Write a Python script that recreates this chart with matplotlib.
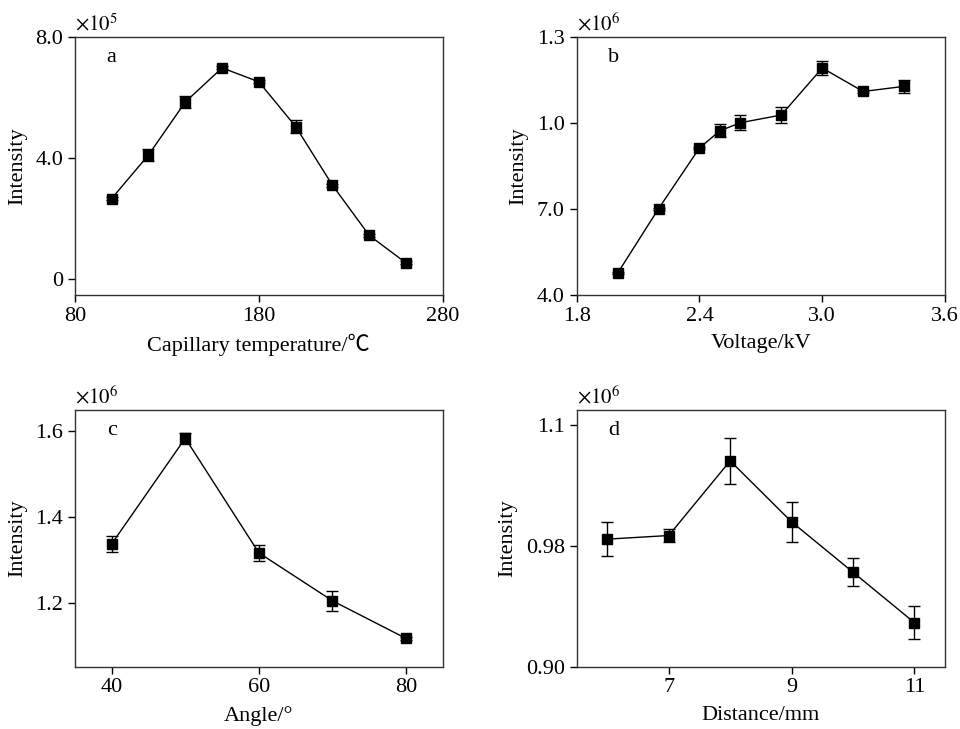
import matplotlib
matplotlib.use("Agg")
import matplotlib.pyplot as plt

plt.rcParams['font.family'] = ['Liberation Serif', 'Noto Sans CJK SC', 'DejaVu Sans']
plt.rcParams['mathtext.fontset'] = 'stix'

# a: capillary temperature (x10^5)
temp = [100, 120, 140, 160, 180, 200, 220, 240, 260]
temp_int = [2.66, 4.10, 5.85, 6.98, 6.52, 5.04, 3.10, 1.44, 0.53]
temp_err = [0.05, 0.21, 0.21, 0.05, 0.05, 0.22, 0.05, 0.05, 0.05]

# b: voltage (x10^6)
volt = [2.0, 2.2, 2.4, 2.5, 2.6, 2.8, 3.0, 3.2, 3.4]
volt_int = [0.476, 0.701, 0.913, 0.973, 1.001, 1.028, 1.192, 1.110, 1.128]
volt_err = [0.004, 0.004, 0.004, 0.023, 0.026, 0.027, 0.023, 0.004, 0.023]

# c: angle (x10^6)
angle = [40, 50, 60, 70, 80]
angle_int = [1.337, 1.584, 1.316, 1.204, 1.116]
angle_err = [0.018, 0.013, 0.019, 0.024, 0.004]

# d: distance (x10^6)
dist = [6, 7, 8, 9, 10, 11]
dist_int = [0.9867, 0.9903, 1.0645, 1.0039, 0.9539, 0.9038]
dist_err = [0.017, 0.0063, 0.0229, 0.0196, 0.0138, 0.0166]

panels = [
    dict(x=temp, y=temp_int, e=temp_err, tag='a', mult='5',
         xlabel='Capillary temperature/℃', xlim=(80, 280), xticks=[80, 180, 280],
         xlabels=['80', '180', '280'],
         ylim=(-0.53, 8.0), yticks=[0, 4.0, 8.0], ylabels=['0', '4.0', '8.0'],
         rect=[0.078, 0.5953, 0.3833, 0.3539]),
    dict(x=volt, y=volt_int, e=volt_err, tag='b', mult='6',
         xlabel='Voltage/kV', xlim=(1.8, 3.6), xticks=[1.8, 2.4, 3.0, 3.6],
         xlabels=['1.8', '2.4', '3.0', '3.6'],
         ylim=(0.4, 1.3), yticks=[0.4, 0.7, 1.0, 1.3], ylabels=['4.0', '7.0', '1.0', '1.3'],
         rect=[0.6007, 0.5953, 0.3837, 0.3539]),
    dict(x=angle, y=angle_int, e=angle_err, tag='c', mult='6',
         xlabel='Angle/°', xlim=(35, 85), xticks=[40, 60, 80],
         xlabels=['40', '60', '80'],
         ylim=(1.05, 1.65), yticks=[1.2, 1.4, 1.6], ylabels=['1.2', '1.4', '1.6'],
         rect=[0.078, 0.0855, 0.3833, 0.3521]),
    dict(x=dist, y=dist_int, e=dist_err, tag='d', mult='6',
         xlabel='Distance/mm', xlim=(5.5, 11.5), xticks=[7, 9, 11],
         xlabels=['7', '9', '11'],
         ylim=(0.86, 1.115), yticks=[0.86, 0.98, 1.10], ylabels=['0.90', '0.98', '1.1'],
         rect=[0.6007, 0.0855, 0.3837, 0.3521]),
]

fig = plt.figure(figsize=(9.6, 7.29), dpi=100)

for p in panels:
    ax = fig.add_axes(p['rect'])
    ax.errorbar(p['x'], p['y'], yerr=p['e'], color='black', lw=1.0,
                marker='s', markersize=6.5, capsize=4, elinewidth=1.0, capthick=1.0)
    ax.set_xlim(*p['xlim'])
    ax.set_ylim(*p['ylim'])
    ax.set_xticks(p['xticks'])
    ax.set_xticklabels(p['xlabels'])
    ax.set_yticks(p['yticks'])
    ax.set_yticklabels(p['ylabels'])
    ax.tick_params(direction='out', length=5, width=1.0, labelsize=16, colors='black')
    for s in ax.spines.values():
        s.set_color('#333333')
        s.set_linewidth(1.0)
    ax.set_xlabel(p['xlabel'], fontsize=16, labelpad=6)
    ax.set_ylabel('Intensity', fontsize=16, labelpad=6)
    ax.text(0.10, 0.92, p['tag'], transform=ax.transAxes, fontsize=16,
            ha='center', va='center')
    ax.text(0.0, 1.005, r'$\times 10^{' + p['mult'] + '}$', transform=ax.transAxes,
            fontsize=15, ha='left', va='bottom')

fig.savefig('out.png', dpi=100)
